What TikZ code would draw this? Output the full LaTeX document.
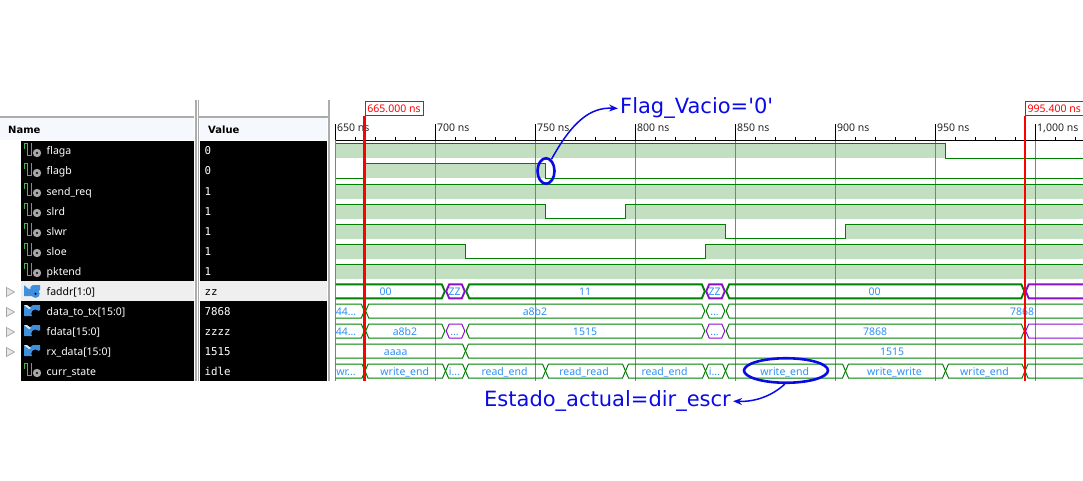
\documentclass[tikz,border=0pt]{standalone}
\usepackage{fontspec}
\setmainfont{Noto Sans}
\newfontfamily\valfont{DejaVu Sans Mono}
\newfontfamily\notefont{DejaVu Sans}
\usetikzlibrary{arrows.meta,shapes.geometric}

\definecolor{wavegreen}{HTML}{008000}
\definecolor{wavefill}{HTML}{C2DFC2}
\definecolor{zpurple}{HTML}{8A10C8}
\definecolor{buslabel}{HTML}{2E8FF5}
\definecolor{notablue}{HTML}{0A0AE6}
\definecolor{gridgray}{HTML}{808080}
\definecolor{headbg}{HTML}{F5F8FD}
\definecolor{rowsel}{HTML}{EFEFEF}
\definecolor{iconblue}{HTML}{3F8FDC}

\tikzset{
  high/.style={fill=wavefill},
  wave/.style={draw=wavegreen, line width=1pt},
  bus/.style={draw=wavegreen, line width=1pt},
  busz/.style={draw=zpurple, line width=1pt},
  busthick/.style={draw=wavegreen, line width=1.9pt},
  buszthick/.style={draw=zpurple, line width=1.9pt},
  smalltxt/.style={inner sep=0pt, text height=8pt, text depth=0pt, font=\fontsize{10.5}{12}\selectfont},
  buslbl/.style={smalltxt, text=buslabel},
  gridln/.style={draw=gridgray, line width=0.9pt},
  panelbar/.style={fill=gray!65},
  cursor/.style={draw=red, line width=2.2pt},
  cursorlbl/.style={smalltxt, draw=red, fill=white, text=red, line width=1pt, anchor=north west,
    minimum width=58pt, minimum height=14pt},
  timelbl/.style={smalltxt, anchor=west, text=black!85},
  namelbl/.style={smalltxt, anchor=west},
  vallbl/.style={smalltxt, anchor=west, font=\valfont\fontsize{10.8}{12}\selectfont},
  headlbl/.style={smalltxt, anchor=west, font=\notefont\bfseries\fontsize{10}{12}\selectfont},
  expander/.style={draw=gray!70, fill=gray!20, line width=0.7pt},
  oval/.style={draw=notablue, line width=2.6pt, ellipse, inner sep=0pt},
  notelbl/.style={text=notablue, inner sep=2pt, font=\notefont\fontsize{21}{24}\selectfont},
  notearrow/.style={draw=notablue, line width=1.5pt, -{Stealth[length=9pt,width=7pt,inset=3pt]}},
  sigicon/.pic={
    \draw[green!45!gray, line width=0.8pt] (-4,-2) -- (-4,-8) -- (-0.5,-8) -- (-0.5,4) -- (3,4) -- (3,-8);
    \fill[gray!70] (9,2) circle (4.2);
    \fill[black] (9,2) circle (1.2);
  },
  busicon/.pic={
    \fill[iconblue] (-4,-6) -- (1,-3) -- (5,-6) -- (12,-6) -- (12,-1) -- (5,5) -- (-4,5) -- cycle;
    \fill[white!85!iconblue] (-4,-6) -- (-1,-6) -- (3,-3) -- (1,-2) -- cycle;
    \fill[#1] (7.5,2.7) circle (4.2);
    \fill[black] (7.5,2.7) circle (1.2);
  },
  busicon/.default=gray!70,
}

% hexagon for one value of a bus
\newcommand{\busseg}[5][0.7]{
  \draw[#5] (#2+#1,#4+7) -- (#2+#1+3,#4) -- (#3-#1-3,#4) -- (#3-#1,#4+7)
    -- (#3-#1-3,#4+14) -- (#2+#1+3,#4+14) -- cycle;
}

\begin{document}
\begin{tikzpicture}[x=1pt, y=-1pt]
  \useasboundingbox (0,0) rectangle (1083,481);

  % Header and panels
  \fill[headbg] (0,118) rectangle (194,140.5);
  \fill[headbg] (200,118) rectangle (327,140.5);
  \fill[panelbar] (0,116) rectangle (194,118);
  \fill[panelbar] (198,116) rectangle (328,118);
  \fill[panelbar] (195,100) rectangle (196.8,381);
  \fill[panelbar] (197.8,100) rectangle (199.2,381);
  \fill[panelbar] (328.3,100) rectangle (329.7,381);
  \fill[black] (21,140.7) rectangle (194,381);
  \fill[black] (200,140.7) rectangle (327,381);
  \fill[rowsel] (21,281) rectangle (194,301);
  \fill[rowsel] (200,281) rectangle (327,301);
  \node[headlbl] (namehead) at (8,130) {Name};
  \node[headlbl] (valuehead) at (208,130) {Value};

  % Signal names and values
  \foreach \i/\nm/\val in {0/flaga/0, 1/flagb/0, 2/send\_req/1, 3/slrd/1, 4/slwr/1, 5/sloe/1,
      6/pktend/1, 11/curr\_state/idle} {
    \pic at (28,151+20*\i) {sigicon};
    \node[namelbl, text=white] (name\i) at (46.5,151+20*\i) {\nm};
    \node[vallbl, text=white] (val\i) at (204.5,151+20*\i) {\val};
  }
  \pic at (28,291) {busicon=iconblue};
  \node[namelbl] (name7) at (46.5,291) {faddr[1:0]};
  \node[vallbl] (val7) at (204.5,291) {zz};
  \foreach \i/\nm/\val in {8/data\_to\_tx[15:0]/7868, 9/fdata[15:0]/zzzz, 10/rx\_data[15:0]/1515} {
    \pic at (28,151+20*\i) {busicon};
    \node[namelbl, text=white] (name\i) at (46.5,151+20*\i) {\nm};
    \node[vallbl, text=white] (val\i) at (204.5,151+20*\i) {\val};
  }
  \foreach \y in {292,312,332,352}
    \draw[expander] (6.5,\y-4.5) -- (14.5,\y) -- (6.5,\y+4.5) -- cycle;

  % High levels
  \fill[high] (335.5,144) rectangle (945.5,158.5);
  \fill[high] (365,164) rectangle (545.5,178.5);
  \fill[high] (335.5,184) rectangle (1083,198.5);
  \fill[high] (335.5,204) rectangle (545.5,218.5);
  \fill[high] (625.5,204) rectangle (1083,218.5);
  \fill[high] (335.5,224) rectangle (725.5,238.5);
  \fill[high] (845.5,224) rectangle (1083,238.5);
  \fill[high] (335.5,244) rectangle (465.5,258.5);
  \fill[high] (705.5,244) rectangle (1083,258.5);
  \fill[high] (335.5,264) rectangle (1083,278.5);

  % Time axis and grid
  \foreach \t in {0,...,37}
    \draw[black] (335.5+20*\t,137) -- (335.5+20*\t,140);
  \foreach \t/\lbl in {0/650 ns,1/700 ns,2/750 ns,3/800 ns,4/850 ns,5/900 ns,6/950 ns,7/{1,000 ns}} {
    \draw[black] (335.5+100*\t,124) -- (335.5+100*\t,140);
    \draw[gridln] (335.5+100*\t,140) -- (335.5+100*\t,380.5);
    \node[timelbl] (time\t) at (337+100*\t,128) {\lbl};
  }
  \draw[black, line width=0.8pt] (335.5,140.3) -- (1083,140.3);

  % Single bit signals
  \draw[wave] (335.5,144) -- (945.5,144) -- (945.5,158.5) -- (1083,158.5);
  \draw[wave] (335.5,178.5) -- (365,178.5) -- (365,164) -- (545.5,164) -- (545.5,178.5) -- (1083,178.5);
  \draw[wave] (335.5,184) -- (1083,184);
  \draw[wave] (335.5,204) -- (545.5,204) -- (545.5,218.5) -- (625.5,218.5) -- (625.5,204) -- (1083,204);
  \draw[wave] (335.5,224) -- (725.5,224) -- (725.5,238.5) -- (845.5,238.5) -- (845.5,224) -- (1083,224);
  \draw[wave] (335.5,244) -- (465.5,244) -- (465.5,258.5) -- (705.5,258.5) -- (705.5,244) -- (1083,244);
  \draw[wave] (335.5,264) -- (1083,264);

  % Bus signals
  \begin{scope}
    \clip (335.5,280) rectangle (1083,382);
    % faddr
    \busseg{330}{445.5}{284.3}{busthick}
    \busseg{445.5}{465.5}{284.3}{buszthick}
    \busseg{465.5}{705.5}{284.3}{busthick}
    \busseg{705.5}{725.5}{284.3}{buszthick}
    \busseg{725.5}{1025}{284.3}{busthick}
    \busseg{1025}{1100}{284.3}{buszthick}
    % data_to_tx
    \busseg{330}{365}{304}{bus}
    \busseg{365}{705.5}{304}{bus}
    \busseg{705.5}{725.5}{304}{bus}
    \busseg{725.5}{1100}{304}{bus}
    % fdata
    \busseg{330}{365}{324}{bus}
    \busseg{365}{445.5}{324}{bus}
    \busseg{445.5}{465.5}{324}{busz}
    \busseg{465.5}{705.5}{324}{bus}
    \busseg{705.5}{725.5}{324}{busz}
    \busseg{725.5}{1025}{324}{bus}
    \busseg{1025}{1100}{324}{busz}
    % rx_data
    \busseg[0]{325}{465.5}{344}{bus}
    \busseg[0]{465.5}{1100}{344}{bus}
    % curr_state
    \busseg[0]{330}{365}{364}{bus}
    \busseg[0]{365}{445.5}{364}{bus}
    \busseg[0]{445.5}{465.5}{364}{bus}
    \busseg[0]{465.5}{545.5}{364}{bus}
    \busseg[0]{545.5}{625.5}{364}{bus}
    \busseg[0]{625.5}{705.5}{364}{bus}
    \busseg[0]{705.5}{725.5}{364}{bus}
    \busseg[0]{725.5}{845.5}{364}{bus}
    \busseg[0]{845.5}{945.5}{364}{bus}
    \busseg[0]{945.5}{1025}{364}{bus}
    \busseg[0]{1025}{1100}{364}{bus}
  \end{scope}

  % Bus values
  \node[buslbl] (fa1) at (385.7,291) {00};
  \node[buslbl] (fa2) at (454.5,291) {ZZ};
  \node[buslbl] (fa3) at (585,291) {11};
  \node[buslbl] (fa4) at (714.5,291) {ZZ};
  \node[buslbl] (fa5) at (874.5,291) {00};
  \node[buslbl] (tx1) at (346,311) {44...};
  \node[buslbl] (tx2) at (535,311) {a8b2};
  \node[buslbl] (tx3) at (714.5,311) {...};
  \node[buslbl] (tx4) at (1022,311) {7868};
  \node[buslbl] (fd1) at (346,331) {44...};
  \node[buslbl] (fd2) at (405,331) {a8b2};
  \node[buslbl] (fd3) at (454.5,331) {...};
  \node[buslbl] (fd4) at (585,331) {1515};
  \node[buslbl] (fd5) at (714.5,331) {...};
  \node[buslbl] (fd6) at (875,331) {7868};
  \node[buslbl] (rx1) at (395.7,351) {aaaa};
  \node[buslbl] (rx2) at (892,351) {1515};
  \node[buslbl] (st1) at (346,371) {wr...};
  \node[buslbl] (st2) at (404.7,371) {write\_end};
  \node[buslbl] (st3) at (454.5,371) {i...};
  \node[buslbl] (st4) at (504.5,371) {read\_end};
  \node[buslbl] (st5) at (584,371) {read\_read};
  \node[buslbl] (st6) at (664.5,371) {read\_end};
  \node[buslbl] (st7) at (714.5,371) {i...};
  \node[buslbl] (st8) at (784.7,371) {write\_end};
  \node[buslbl] (st9) at (894.5,371) {write\_write};
  \node[buslbl] (st10) at (984.5,371) {write\_end};

  % Cursors
  \node[cursorlbl] (curleft) at (364.5,100.7) {665.000 ns};
  \node[cursorlbl, minimum width=57.5pt] (curright) at (1025,100.7) {995.400 ns};
  \coordinate (curleftend) at (curleft.south west |- 0,381);
  \coordinate (currightend) at (curright.south west |- 0,381);
  \draw[cursor] (curleft.south west) -- (curleftend);
  \draw[cursor] (curright.south west) -- (currightend);

  % Notes
  \node[oval, minimum width=17pt, minimum height=25.5pt] (flagoval) at (546,171) {};
  \node[oval, minimum width=84pt, minimum height=24.5pt] (stateoval) at (786,370.5) {};
  \node[notelbl, anchor=base west] (flagtxt) at (618,114) {Flag\_Vacio='0'};
  \node[notelbl, anchor=base east] (statetxt) at (733,406.7) {Estado\_actual=dir\_escr};
  \draw[notearrow] (flagoval.65) .. controls (572,122) and (590,107) .. (flagtxt.west);
  \draw[notearrow] (stateoval.-95) .. controls (772,396) and (755,402) .. (statetxt.east);
\end{tikzpicture}
\end{document}
